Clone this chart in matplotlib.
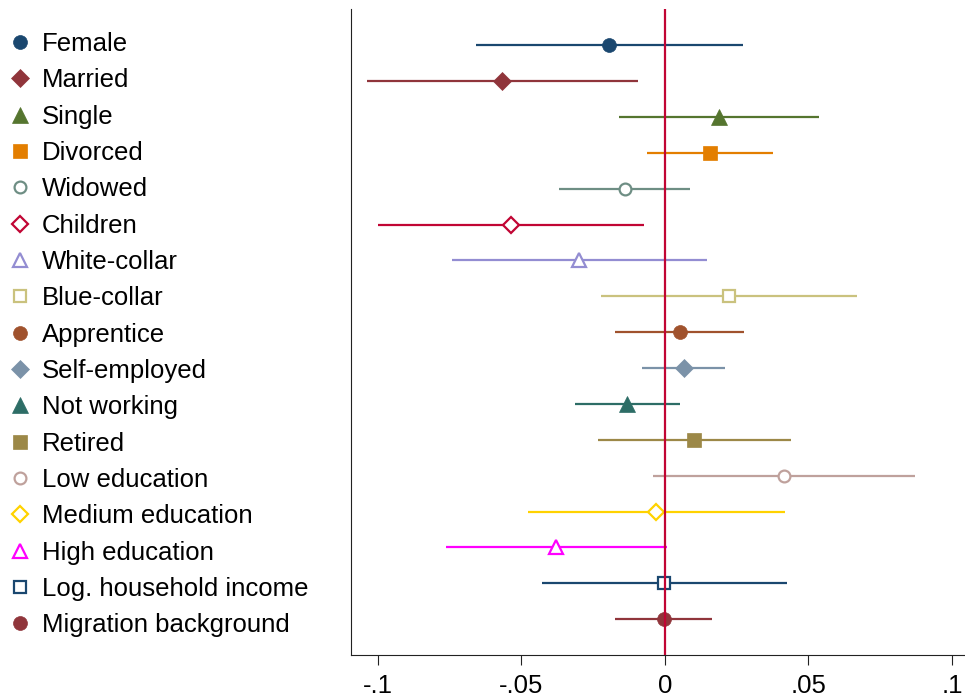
import matplotlib
matplotlib.use("Agg")
import matplotlib.pyplot as plt
from matplotlib.lines import Line2D

plt.rcParams['font.family'] = ['Liberation Sans', 'DejaVu Sans']

labels = ["Female", "Married", "Single", "Divorced", "Widowed", "Children",
          "White-collar", "Blue-collar", "Apprentice", "Self-employed",
          "Not working", "Retired", "Low education", "Medium education",
          "High education", "Log. household income", "Migration background"]
coef = [-0.0194, -0.0566, 0.0189, 0.0157, -0.0140, -0.0535, -0.0300, 0.0222,
        0.0051, 0.0065, -0.0131, 0.0101, 0.0414, -0.0031, -0.0379, -0.0003, -0.0003]
ci_lo = [-0.0656, -0.1036, -0.0159, -0.0064, -0.0368, -0.0998, -0.0743, -0.0224,
         -0.0173, -0.0079, -0.0313, -0.0232, -0.0043, -0.0477, -0.0763, -0.0428, -0.0172]
ci_hi = [0.0271, -0.0093, 0.0538, 0.0375, 0.0088, -0.0072, 0.0145, 0.0668,
         0.0275, 0.0209, 0.0053, 0.0438, 0.0871, 0.0417, 0.0007, 0.0424, 0.0165]
tick_vals = [-0.1, -0.05, 0, 0.05, 0.1]
tick_labels = ["-.1", "-.05", "0", ".05", ".1"]

colors = ["#1a476f", "#90353b", "#55752f", "#e37e00", "#6e8e84", "#c10534",
          "#938dd2", "#cac27e", "#a0522d", "#7b92a8", "#2d6d66", "#9c8847",
          "#bfa19c", "#ffd200", "#ff00ff", "#1a476f", "#90353b"]
markers = ["o", "D", "^", "s", "o", "D", "^", "s",
           "o", "D", "^", "s", "o", "D", "^", "s", "o"]
hollow = [False, False, False, False, True, True, True, True,
          False, False, False, False, True, True, True, True, False]
msizes = {"o": 10, "D": 9.6, "^": 12, "s": 10}
msizes_h = {"o": 8.5, "D": 8.4, "^": 10.5, "s": 9}

fig = plt.figure(figsize=(9.65, 6.95), dpi=100)
ax = fig.add_axes([351/965, 1 - 655/695, 1 - 351/965, (655 - 9.3)/695])

n = len(labels)
ypos = [n - i for i in range(n)]
handles = []
for i in range(n):
    c = colors[i]
    ax.hlines(ypos[i], ci_lo[i], ci_hi[i], color=c, lw=1.6, zorder=2)
    m = markers[i]
    if hollow[i]:
        kw = dict(marker=m, ms=msizes_h[m], mfc="white", mec=c, mew=1.6)
    else:
        kw = dict(marker=m, ms=msizes[m], mfc=c, mec=c, mew=0.5)
    ax.plot([coef[i]], [ypos[i]], ls="none", zorder=3, **kw)
    handles.append(Line2D([], [], ls="none", label=labels[i], **kw))

ax.axvline(0, color="#c10534", lw=1.6, zorder=4)

ax.set_xlim(-0.1093, 0.1045)
ax.set_ylim(0, 18)
ax.set_xticks(tick_vals)
ax.set_xticklabels(tick_labels, fontsize=18.5)
ax.set_yticks([])
ax.tick_params(axis="x", length=7.2, width=0.8, pad=6.2, color="#222222")
for s in ["top", "right"]:
    ax.spines[s].set_visible(False)
for s in ["left", "bottom"]:
    ax.spines[s].set_linewidth(0.8)
    ax.spines[s].set_color("#222222")

fig.legend(handles=handles, loc="upper left", bbox_to_anchor=(7.15/965, 1 - 32/695),
           frameon=False, fontsize=18.5, borderpad=0, borderaxespad=0,
           handlelength=1.0, handletextpad=0.35, labelspacing=0.48)

fig.savefig("out.png", dpi=100)
